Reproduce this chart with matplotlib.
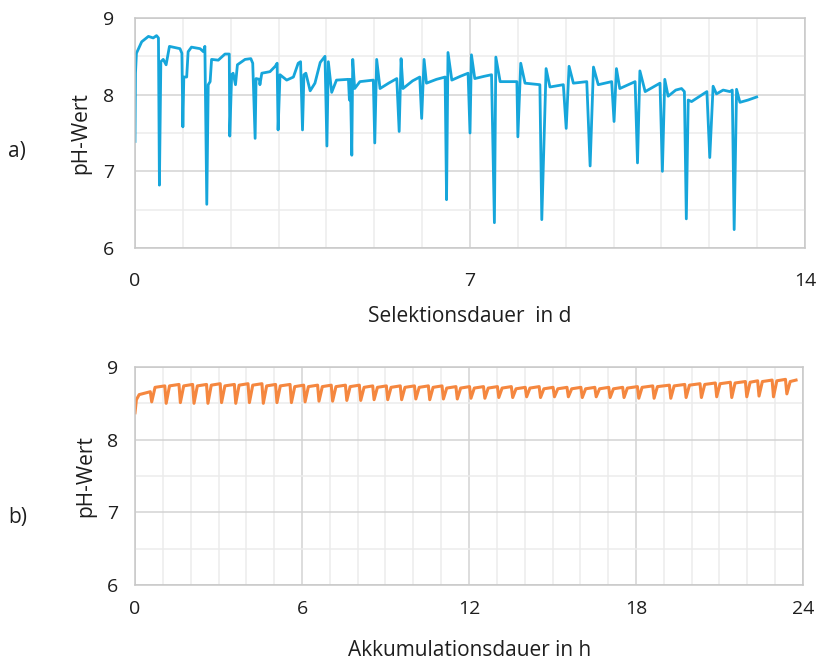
"""
Two-panel pH chart: a) selection run over 14 days, b) accumulation run over 24 h.
Values read off the reference picture.
"""
import matplotlib
matplotlib.use("Agg")
import matplotlib.pyplot as plt
from matplotlib.ticker import MultipleLocator

plt.rcParams["font.family"] = ["Open Sans", "DejaVu Sans"]

# a) Selektionsdauer (d) vs pH
sel_day = [0.00, 0.01, 0.03, 0.14, 0.28, 0.38, 0.45, 0.49, 0.51, 0.54, 0.59, 0.65, 0.72,
           0.94, 0.98, 1.00, 1.02, 1.08, 1.11, 1.18, 1.36, 1.43, 1.46, 1.50, 1.53, 1.57,
           1.60, 1.74, 1.88, 1.97, 1.98, 2.02, 2.05, 2.10, 2.14, 2.30, 2.42, 2.46, 2.51,
           2.53, 2.60, 2.61, 2.65, 2.82, 2.93, 2.97, 2.99, 3.03, 3.17, 3.31, 3.41, 3.46,
           3.50, 3.53, 3.57, 3.66, 3.76, 3.87, 3.97, 4.01, 4.04, 4.11, 4.21, 4.46, 4.48,
           4.50, 4.53, 4.55, 4.59, 4.70, 4.98, 5.01, 5.05, 5.12, 5.30, 5.47, 5.52, 5.56,
           5.60, 5.80, 5.95, 5.99, 6.04, 6.09, 6.30, 6.48, 6.51, 6.54, 6.62, 6.80, 6.96,
           7.00, 7.03, 7.10, 7.30, 7.45, 7.51, 7.54, 7.63, 7.98, 8.00, 8.06, 8.15, 8.46,
           8.50, 8.59, 8.67, 8.95, 9.01, 9.07, 9.16, 9.44, 9.51, 9.58, 9.68, 9.96, 10.01,
           10.06, 10.13, 10.45, 10.50, 10.55, 10.66, 10.97, 11.02, 11.07, 11.14, 11.30,
           11.42, 11.48, 11.52, 11.56, 11.63, 11.95, 12.01, 12.08, 12.15, 12.29, 12.43,
           12.48, 12.52, 12.57, 12.64, 12.81, 12.99]
sel_ph = [7.39, 8.28, 8.54, 8.69, 8.76, 8.74, 8.77, 8.74, 6.82, 8.43, 8.46, 8.39, 8.63,
          8.60, 8.54, 7.58, 8.23, 8.23, 8.56, 8.62, 8.60, 8.56, 8.63, 6.57, 8.13, 8.17,
          8.46, 8.45, 8.53, 8.53, 7.46, 8.26, 8.28, 8.13, 8.39, 8.46, 8.47, 8.41, 7.43,
          8.21, 8.20, 8.13, 8.28, 8.30, 8.37, 8.41, 7.54, 8.26, 8.19, 8.23, 8.41, 8.43,
          7.54, 8.26, 8.28, 8.05, 8.15, 8.42, 8.50, 7.33, 8.43, 8.03, 8.19, 8.20, 7.93,
          8.20, 7.21, 8.46, 8.08, 8.17, 8.19, 7.37, 8.46, 8.08, 8.15, 8.21, 7.52, 8.47,
          8.08, 8.18, 8.23, 7.69, 8.46, 8.15, 8.20, 8.23, 6.63, 8.55, 8.19, 8.24, 8.28,
          7.50, 8.52, 8.21, 8.24, 8.26, 6.33, 8.49, 8.17, 8.17, 7.45, 8.41, 8.15, 8.13,
          6.37, 8.34, 8.10, 8.13, 7.56, 8.37, 8.15, 8.17, 7.07, 8.36, 8.13, 8.17, 7.65,
          8.34, 8.08, 8.17, 7.11, 8.31, 8.04, 8.15, 7.00, 8.20, 7.98, 8.06,
          8.08, 8.04, 6.38, 7.93, 7.91, 8.04, 7.18, 8.11, 8.01, 8.06, 8.04,
          8.06, 6.24, 8.07, 7.90, 7.93, 7.97]

# b) Akkumulationsdauer (h) vs pH: start, then one tooth per dosing dip
akk_start_h = [0.00, 0.05, 0.15, 0.35, 0.55]
akk_start_ph = [8.37, 8.55, 8.62, 8.64, 8.66]
akk_dip_h = [0.60, 1.12, 1.63, 2.12, 2.62, 3.11, 3.62, 4.11, 4.61, 5.10, 5.62, 6.11,
             6.61, 7.10, 7.61, 8.11, 8.59, 9.08, 9.58, 10.09, 10.59, 11.08, 11.58, 12.07,
             12.57, 13.07, 13.57, 14.07, 14.57, 15.07, 15.57, 16.07, 16.57, 17.07, 17.57,
             18.10, 18.65, 19.25, 19.80, 20.35, 20.90, 21.44, 21.98, 22.42, 22.94, 23.42]
akk_dip_ph = [8.52, 8.50, 8.51, 8.50, 8.50, 8.51, 8.50, 8.51, 8.50, 8.51, 8.51, 8.52,
              8.53, 8.53, 8.54, 8.54, 8.55, 8.55, 8.55, 8.56, 8.55, 8.56, 8.56, 8.57,
              8.57, 8.58, 8.58, 8.59, 8.58, 8.59, 8.59, 8.58, 8.59, 8.58, 8.58,
              8.57, 8.57, 8.57, 8.58, 8.58, 8.59, 8.58, 8.59, 8.60, 8.59, 8.63]
akk_top_ph = [8.74, 8.76, 8.76, 8.76, 8.77, 8.76, 8.77, 8.77, 8.76, 8.76, 8.75, 8.75,
              8.75, 8.75, 8.75, 8.74, 8.74, 8.74, 8.74, 8.74, 8.74, 8.73, 8.73, 8.73,
              8.73, 8.73, 8.72, 8.73, 8.72, 8.72, 8.72, 8.72, 8.72, 8.72, 8.73,
              8.74, 8.75, 8.76, 8.77, 8.78, 8.79, 8.80, 8.81, 8.82, 8.83, 8.82]
akk_end_h = 23.80

BLUE = "#16A6DB"
ORANGE = "#F5873F"
MAJOR_GRID = "#D3D3D3"
MINOR_GRID = "#ECECEC"
FRAME = "#C8C8C8"
TEXT = "#1E1E1E"


def style_axes(ax, xmax, xmajor, xpad):
    ax.set_xlim(0, xmax)
    ax.set_ylim(6, 9)
    ax.xaxis.set_major_locator(MultipleLocator(xmajor))
    ax.xaxis.set_minor_locator(MultipleLocator(1))
    ax.yaxis.set_major_locator(MultipleLocator(1))
    ax.yaxis.set_minor_locator(MultipleLocator(0.5))
    ax.grid(which="major", color=MAJOR_GRID, linewidth=1.1)
    ax.grid(which="minor", color=MINOR_GRID, linewidth=1.1)
    ax.set_axisbelow(True)
    ax.tick_params(which="both", length=0, labelsize=14, labelcolor=TEXT)
    ax.tick_params(axis="x", pad=xpad)
    ax.tick_params(axis="y", pad=15)
    for side in ax.spines.values():
        side.set_color(FRAME)
        side.set_linewidth(1.1)


fig = plt.figure(figsize=(8.23, 6.62), dpi=100)
ax_a = fig.add_axes([135 / 823, 1 - 248 / 662, 670 / 823, 230 / 662])
ax_b = fig.add_axes([135 / 823, 1 - 585 / 662, 668 / 823, 218 / 662])

style_axes(ax_a, 14, 7, 17)
style_axes(ax_b, 24, 6, 11)
ax_b.tick_params(axis="y", pad=12)

ax_a.plot(sel_day, sel_ph, color=BLUE, linewidth=2.0, solid_joinstyle="round")

# build the sawtooth: sharp drop to each dip, quick rise, plateau until the next dip
t = list(akk_start_h)
v = list(akk_start_ph)
nxt = akk_dip_h[1:] + [akk_end_h]
for d_h, d_ph, top, n_h in zip(akk_dip_h, akk_dip_ph, akk_top_ph, nxt):
    t += [d_h, d_h + 0.12, n_h - 0.05]
    v += [d_ph, top - 0.02, top]
ax_b.plot(t, v, color=ORANGE, linewidth=2.2, solid_joinstyle="round")

fig.text(81 / 823, 1 - 133 / 662, "pH-Wert", rotation=90, ha="center", va="center",
         fontsize=15, color=TEXT)
fig.text(86 / 823, 1 - 476 / 662, "pH-Wert", rotation=90, ha="center", va="center",
         fontsize=15, color=TEXT)
fig.text(470 / 823, 1 - 316 / 662, "Selektionsdauer  in d", ha="center", va="center",
         fontsize=15, color=TEXT)
fig.text(470 / 823, 1 - 650 / 662, "Akkumulationsdauer in h", ha="center", va="center",
         fontsize=15, color=TEXT)
fig.text(17 / 823, 1 - 152 / 662, "a)", ha="center", va="center", fontsize=15, color=TEXT)
fig.text(18 / 823, 1 - 517 / 662, "b)", ha="center", va="center", fontsize=15, color=TEXT)

fig.savefig("out.png", dpi=100)
